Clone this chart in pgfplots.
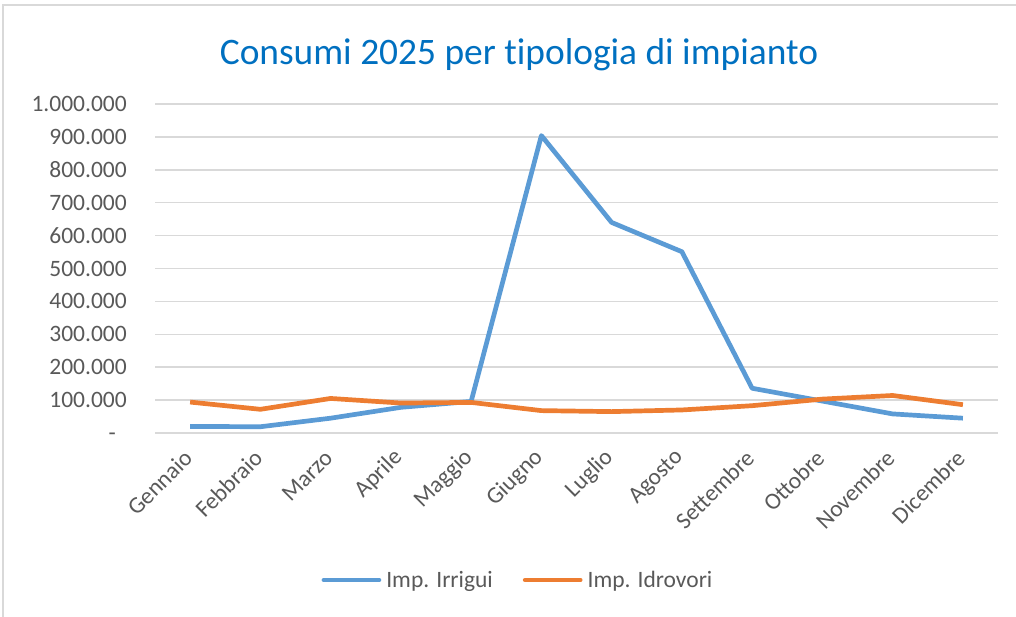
\documentclass[border=0pt]{standalone}
\usepackage{pgfplots}
\pgfplotsset{compat=1.18}
\usepackage{fontspec}
\setmainfont{Carlito}[Ligatures={NoCommon}]
\definecolor{irr}{HTML}{5B9BD5}
\definecolor{idr}{HTML}{ED7D31}
\definecolor{gridc}{HTML}{D9D9D9}
\definecolor{txt}{HTML}{595959}
\definecolor{ttl}{HTML}{0070C0}
\begin{document}
\begin{tikzpicture}
\useasboundingbox (0pt,0pt) rectangle (1016pt,617pt);
\draw[gridc, line width=1.5pt] (3pt,-5pt) -- (3pt,612pt) -- (1030pt,612pt);
\node[anchor=base, text=ttl, font=\fontsize{37.4}{41}\selectfont] at (519pt,552pt) {Consumi 2025 per tipologia di impianto};
\begin{axis}[
  at={(155pt,184pt)}, anchor=south west,
  scale only axis, width=843pt, height=329pt,
  xmin=-0.5, xmax=11.5, ymin=0, ymax=1000000,
  axis line style={draw=none},
  major tick style={draw=none},
  ymajorgrids, grid style={gridc, line width=1.5pt},
  xtick={0,...,11},
  xticklabels={Gennaio,Febbraio,Marzo,Aprile,Maggio,Giugno,Luglio,Agosto,Settembre,Ottobre,Novembre,Dicembre},
  ytick={0,100000,...,1000000},
  scaled y ticks=false,
  yticklabels={{\vphantom{0}-\kern11pt},100.000,200.000,300.000,400.000,500.000,600.000,700.000,800.000,900.000,1.000.000},
  /pgf/number format/assume math mode=true,
  tick label style={font=\fontsize{23.5}{27}\selectfont, text=txt},
  yticklabel style={anchor=east, inner sep=0pt, xshift=-28pt},
  xticklabel style={inner sep=0pt, xshift=-2pt, yshift=-21pt, rotate=45, anchor=east},
  legend columns=2,
  legend style={draw=none, fill=none, at={(axis description cs:0.4306,-0.4468)}, anchor=center,
    font=\fontsize{23.5}{27}\selectfont, text=txt, column sep=0pt,
    /tikz/every odd column/.append style={column sep=3pt},
    /tikz/every even column/.append style={column sep=28pt}},
  legend image code/.code={\draw[#1, line cap=round] (0pt,0pt) -- (55pt,0pt);},
  every axis plot/.append style={line width=4.7pt, line join=round},
]
\addplot[irr] coordinates {(0,20000) (1,19000) (2,45000) (3,78000) (4,96000) (5,904000) (6,640000) (7,551000) (8,136000) (9,97000) (10,58000) (11,45000)};
\addlegendentry{Imp. Irrigui}
\addplot[idr] coordinates {(0,94000) (1,72000) (2,105000) (3,91000) (4,93000) (5,68000) (6,65000) (7,70000) (8,83000) (9,103000) (10,114000) (11,86000)};
\addlegendentry{Imp. Idrovori}
\end{axis}
\end{tikzpicture}
\end{document}
